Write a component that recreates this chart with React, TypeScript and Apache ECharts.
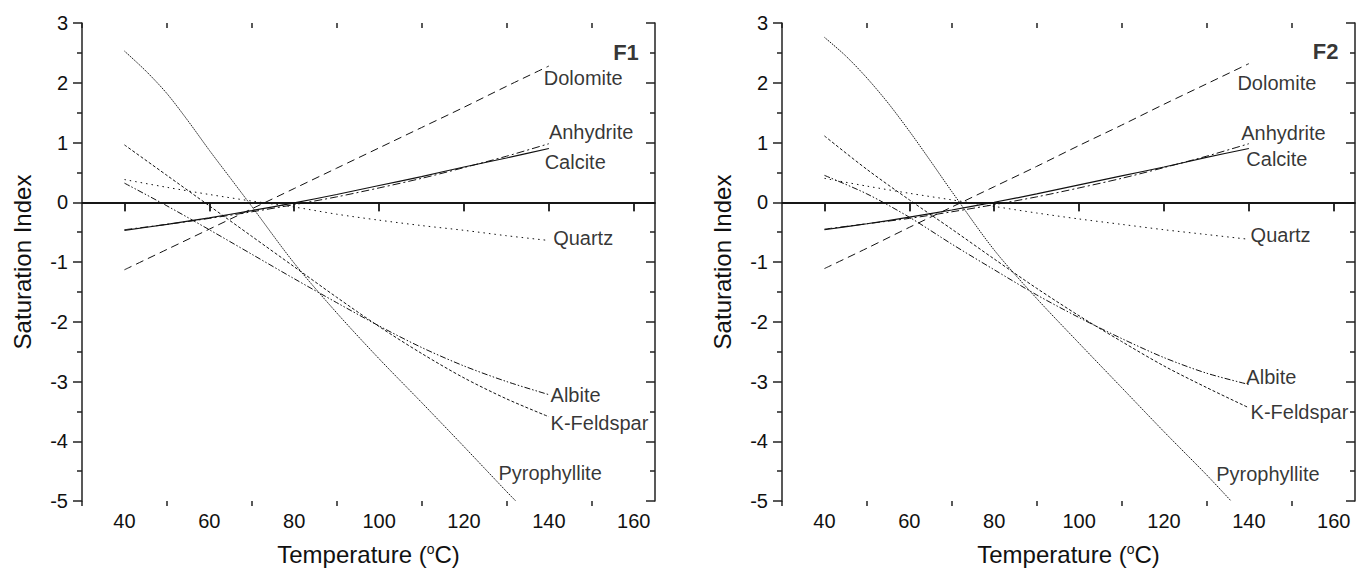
import React, { useEffect, useRef } from "react";
import * as echarts from "echarts";

// ---------- data ----------
const TEMPS = [40, 50, 60, 70, 80, 90, 100, 110, 120, 130, 140];

// Panel F1
const F1_DOLOMITE = [-1.13, -0.79, -0.45, -0.11, 0.23, 0.57, 0.91, 1.25, 1.59, 1.94, 2.28];
const F1_ANHYDRITE = [-0.46, -0.37, -0.27, -0.16, -0.04, 0.09, 0.24, 0.4, 0.58, 0.77, 0.98];
const F1_CALCITE = [-0.47, -0.37, -0.26, -0.14, -0.01, 0.13, 0.28, 0.43, 0.59, 0.74, 0.9];
const F1_QUARTZ = [0.38, 0.25, 0.13, 0.02, -0.08, -0.2, -0.3, -0.39, -0.47, -0.56, -0.64];
const F1_ALBITE = [0.32, -0.06, -0.46, -0.87, -1.28, -1.68, -2.07, -2.43, -2.74, -3.0, -3.22];
const F1_KFELDSPAR = [0.96, 0.45, -0.06, -0.57, -1.08, -1.59, -2.08, -2.53, -2.94, -3.29, -3.59];
const F1_PYRO_T = [40, 45, 50, 55, 60, 65, 70, 80, 90, 100, 110, 120, 130, 132.2];
const F1_PYRO = [2.53, 2.2, 1.82, 1.36, 0.87, 0.4, -0.07, -1.02, -1.85, -2.62, -3.35, -4.09, -4.84, -5.0];

// Panel F2
const F2_DOLOMITE = [-1.11, -0.77, -0.42, -0.08, 0.26, 0.6, 0.95, 1.29, 1.64, 1.98, 2.32];
const F2_ANHYDRITE = [-0.45, -0.36, -0.27, -0.16, -0.04, 0.09, 0.24, 0.4, 0.58, 0.77, 0.98];
const F2_CALCITE = [-0.46, -0.36, -0.25, -0.13, 0.0, 0.14, 0.29, 0.44, 0.59, 0.75, 0.9];
const F2_QUARTZ = [0.4, 0.27, 0.15, 0.04, -0.07, -0.18, -0.28, -0.37, -0.46, -0.54, -0.62];
const F2_ALBITE = [0.45, 0.14, -0.25, -0.7, -1.13, -1.55, -1.93, -2.28, -2.6, -2.86, -3.05];
const F2_KFELDSPAR = [1.11, 0.55, 0.04, -0.45, -0.95, -1.44, -1.9, -2.33, -2.74, -3.1, -3.44];
const F2_PYRO_T = [40, 45, 50, 55, 60, 65, 70, 80, 90, 100, 110, 120, 130, 135.8];
const F2_PYRO = [2.76, 2.45, 2.08, 1.66, 1.19, 0.69, 0.18, -0.8, -1.61, -2.36, -3.1, -3.84, -4.56, -5.0];

// Curve label names and anchors (data coordinates)
const MINERALS = ["Dolomite", "Anhydrite", "Calcite", "Quartz", "Albite", "K-Feldspar", "Pyrophyllite"];
const F1_LABEL_T = [138.8, 140, 139, 141, 140.4, 140.4, 128.1];
const F1_LABEL_SI = [2.08, 1.17, 0.67, -0.6, -3.22, -3.7, -4.53];
const F2_LABEL_T = [137.3, 138.2, 139.4, 140.4, 139.4, 140.4, 132.3];
const F2_LABEL_SI = [2.0, 1.16, 0.72, -0.55, -2.93, -3.51, -4.54];
const PANEL_NAMES = ["F1", "F2"];
const PANEL_TAG_T = [161.2, 161.1];
const PANEL_TAG_SI = [2.5, 2.52];

// Axis ticks
const X_MIN = 30;
const X_MAX = 165;
const X_MAJOR = [40, 60, 80, 100, 120, 140, 160];
const X_MINOR = [30, 50, 70, 90, 110, 130, 150];
const Y_MIN = -5;
const Y_MAX = 3;

// ---------- styles ----------
const INK = "#111111";
const AXIS = "#222222";
const FONT = "'Liberation Sans', Arial, Helvetica, sans-serif";

const STYLES: Record<string, { type: any; width: number; color: string }> = {
  Dolomite: { type: [8, 5], width: 1, color: INK },
  Anhydrite: { type: [8, 3, 2, 3], width: 1, color: INK },
  Calcite: { type: "solid", width: 1.2, color: INK },
  Quartz: { type: [1.5, 4], width: 1, color: INK },
  Albite: { type: [6, 2, 1.5, 2, 1.5, 2], width: 1, color: INK },
  "K-Feldspar": { type: [3, 2], width: 1, color: INK },
  Pyrophyllite: { type: [1.5, 1], width: 1, color: "#111" },
};

const zip = (xs: number[], ys: number[]) => xs.map((x, i) => [x, ys[i]]);

function buildOption() {
  const grids = [
    { left: 82, top: 23, width: 573, height: 478, outerBoundsMode: "none", containLabel: false },
    { left: 782, top: 23, width: 573, height: 478, outerBoundsMode: "none", containLabel: false },
  ];

  const xAxes: any[] = [];
  const yAxes: any[] = [];
  const series: any[] = [];
  const lineStyle = { color: AXIS, width: 1.5 };

  const panels = [
    {
      data: [F1_DOLOMITE, F1_ANHYDRITE, F1_CALCITE, F1_QUARTZ, F1_ALBITE, F1_KFELDSPAR],
      pyroT: F1_PYRO_T,
      pyro: F1_PYRO,
      lt: F1_LABEL_T,
      ls: F1_LABEL_SI,
    },
    {
      data: [F2_DOLOMITE, F2_ANHYDRITE, F2_CALCITE, F2_QUARTZ, F2_ALBITE, F2_KFELDSPAR],
      pyroT: F2_PYRO_T,
      pyro: F2_PYRO,
      lt: F2_LABEL_T,
      ls: F2_LABEL_SI,
    },
  ];

  panels.forEach((p, gi) => {
    const xBase = xAxes.length;
    const yBase = yAxes.length;
    xAxes.push({
      gridIndex: gi,
      type: "value",
      min: X_MIN,
      max: X_MAX,
      position: "bottom",
      axisLine: { show: true, lineStyle },
      axisTick: { show: true, inside: false, length: 9, customValues: X_MAJOR, lineStyle },
      axisLabel: { show: true, customValues: X_MAJOR, fontSize: 20, margin: 10, color: INK, fontFamily: FONT },
      splitLine: { show: false },
      name: "Temperature ({sup|o}C)",
      nameLocation: "middle",
      nameGap: 41,
      nameTextStyle: {
        fontSize: 24,
        lineHeight: 24,
        color: INK,
        fontFamily: FONT,
        rich: { sup: { fontSize: 14, lineHeight: 14, verticalAlign: "top", color: INK, fontFamily: FONT } },
      },
    });
    xAxes.push({
      gridIndex: gi,
      type: "value",
      min: X_MIN,
      max: X_MAX,
      position: "top",
      axisLine: { show: true, lineStyle },
      axisTick: { show: true, inside: true, length: 9, customValues: X_MAJOR, lineStyle },
      axisLabel: { show: false },
      splitLine: { show: false },
    });
    xAxes.push({
      gridIndex: gi,
      type: "value",
      min: X_MIN,
      max: X_MAX,
      position: "bottom",
      axisLine: { show: false },
      axisTick: { show: true, inside: false, length: 5, customValues: X_MINOR, lineStyle },
      axisLabel: { show: false },
      splitLine: { show: false },
    });
    xAxes.push({
      gridIndex: gi,
      type: "value",
      min: X_MIN,
      max: X_MAX,
      position: "top",
      axisLine: { show: false },
      axisTick: { show: true, inside: true, length: 5, customValues: X_MINOR, lineStyle },
      axisLabel: { show: false },
      splitLine: { show: false },
    });

    yAxes.push({
      gridIndex: gi,
      type: "value",
      min: Y_MIN,
      max: Y_MAX,
      interval: 1,
      position: "left",
      axisLine: { show: true, lineStyle },
      axisTick: { show: true, inside: false, length: 9, lineStyle },
      minorTick: { show: true, splitNumber: 2, length: 5, lineStyle },
      axisLabel: { show: true, fontSize: 20, margin: 14, color: INK, fontFamily: FONT },
      splitLine: { show: false },
      minorSplitLine: { show: false },
      name: "Saturation Index",
      nameLocation: "middle",
      nameGap: 48,
      nameRotate: 90,
      nameTextStyle: { fontSize: 24, color: INK, fontFamily: FONT },
    });
    yAxes.push({
      gridIndex: gi,
      type: "value",
      min: Y_MIN,
      max: Y_MAX,
      interval: 1,
      position: "right",
      axisLine: { show: true, lineStyle },
      axisTick: { show: true, inside: true, length: 9, lineStyle },
      minorTick: { show: true, splitNumber: 2, length: 5, lineStyle },
      axisLabel: { show: false },
      splitLine: { show: false },
      minorSplitLine: { show: false },
    });

    MINERALS.forEach((m, mi) => {
      const pts = mi < 6 ? zip(TEMPS, p.data[mi]) : zip(p.pyroT, p.pyro);
      const st = STYLES[m];
      const s: any = {
        type: "line",
        name: `${PANEL_NAMES[gi]} ${m}`,
        xAxisIndex: xBase,
        yAxisIndex: yBase,
        data: pts,
        symbol: "none",
        showSymbol: false,
        smooth: 0.3,
        silent: true,
        lineStyle: { color: st.color, width: st.width, type: st.type },
        z: 3,
      };
      if (m === "Calcite") {
        s.markLine = {
          silent: true,
          symbol: ["none", "none"],
          label: { show: false },
          lineStyle: { color: INK, width: 1.5, type: "solid" },
          data: [{ yAxis: 0 }],
        };
      }
      series.push(s);
    });

    const labelData: any[] = MINERALS.map((m, mi) => ({
      name: m,
      value: [p.lt[mi], p.ls[mi]],
    }));
    labelData.push({
      name: PANEL_NAMES[gi],
      value: [PANEL_TAG_T[gi], PANEL_TAG_SI[gi]],
      label: { position: "left", fontWeight: "bold", fontSize: 22 },
    });
    series.push({
      type: "scatter",
      xAxisIndex: xBase,
      yAxisIndex: yBase,
      data: labelData,
      symbolSize: 0,
      silent: true,
      z: 5,
      label: {
        show: true,
        position: "right",
        distance: 0,
        formatter: "{b}",
        fontSize: 20,
        color: "#000",
        textBorderWidth: 0,
        fontFamily: FONT,
      },
    });
  });

  return {
    animation: false,
    backgroundColor: "#ffffff",
    textStyle: { fontFamily: FONT },
    grid: grids,
    xAxis: xAxes,
    yAxis: yAxes,
    series,
  };
}

export default function App() {
  const ref = useRef<HTMLDivElement>(null);
  useEffect(() => {
    if (!ref.current) return;
    const chart = echarts.init(ref.current, null, { renderer: "svg" });
    chart.setOption(buildOption() as any);
    return () => chart.dispose();
  }, []);
  return (
    <div
      ref={ref}
      style={{ position: "fixed", left: 0, top: 0, width: 1365, height: 568, background: "#fff" }}
    />
  );
}
